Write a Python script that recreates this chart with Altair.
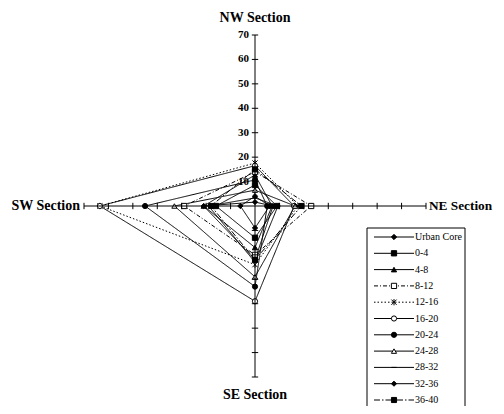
import altair as alt
import pandas as pd

series = ["Urban Core", "0-4", "4-8", "8-12", "12-16", "16-20", "20-24", "24-28", "28-32", "32-36", "36-40"]
nw = [4.0, 8.6, 12.7, 14.0, 17.6, 16.5, 10.7, 6.5, 3.3, 1.6, 15.0]
ne = [6.0, 9.0, 7.0, 23.0, 17.6, 16.0, 5.0, 16.4, 9.4, 7.4, 19.0]
se = [9.0, 13.0, 17.0, 20.0, 24.0, 39.0, 33.0, 29.0, 23.0, 22.0, 22.0]
sw = [6.0, 16.0, 21.0, 29.0, 63.5, 63.5, 45.0, 33.0, 19.0, 21.0, 18.0]
directions = ["NW", "NE", "SE", "SW"]
section_labels = ["NW Section", "NE Section", "SE Section", "SW Section"]
ticks = [10, 20, 30, 40, 50, 60, 70]

ASTER = "M-1,-1L1,1M-1,1L1,-1M0,-1.2L0,1.2"
DASH = "M-1,0L1,0"
shapes = ["diamond", "square", "triangle-up", "square", ASTER, "circle", "circle",
          "triangle-up", DASH, "diamond", "square"]
fills = ["black", "black", "black", "white", "black", "white", "black",
         "white", "black", "black", "black"]
sizes = [28, 26, 30, 26, 34, 16, 28, 30, 34, 28, 26]
dashes = [[1, 0], [1, 0], [1, 0], [4, 2, 1, 2], [1.5, 2], [1, 0], [1, 0],
          [1, 0], [1, 0], [1, 0], [6, 2, 1.5, 2]]

FONT = "Liberation Serif"

rows = []
for i, s in enumerate(series):
    vals = {"NW": nw[i], "NE": ne[i], "SE": se[i], "SW": sw[i]}
    for k, d in enumerate(directions + ["NW"]):
        rows.append({"series": s, "dir": d, "value": vals[d], "order": k})
df = pd.DataFrame(rows)

dx_expr = "datum.dir == 'NE' ? 1 : (datum.dir == 'SW' ? -1 : 0)"
dy_expr = "datum.dir == 'NW' ? 1 : (datum.dir == 'SE' ? -1 : 0)"

xs = alt.Scale(domain=[-70, 70], nice=False, zero=False)
ys = alt.Scale(domain=[-70, 70], nice=False, zero=False)

shape_scale = alt.Scale(domain=series, range=shapes)
fill_scale = alt.Scale(domain=series, range=fills)
size_scale = alt.Scale(domain=series, range=sizes)
dash_scale = alt.Scale(domain=series, range=dashes)

# axes
axis_df = pd.DataFrame({"dir": directions})
axis_lines = alt.Chart(axis_df).transform_calculate(
    dx=dx_expr, dy=dy_expr
).transform_calculate(
    zero="0", ex="70 * datum.dx", ey="70 * datum.dy"
).mark_rule(color="black", strokeWidth=1).encode(
    x=alt.X("zero:Q", scale=xs, axis=None),
    y=alt.Y("zero:Q", scale=ys, axis=None),
    x2="ex:Q", y2="ey:Q",
)

tick_df = pd.DataFrame([{"dir": d, "v": t} for d in directions for t in ticks])
tick_marks = alt.Chart(tick_df).transform_calculate(
    dx=dx_expr, dy=dy_expr
).transform_calculate(
    tx1="datum.v * datum.dx - 1.3 * abs(datum.dy)",
    tx2="datum.v * datum.dx + 1.3 * abs(datum.dy)",
    ty1="datum.v * datum.dy - 1.3 * abs(datum.dx)",
    ty2="datum.v * datum.dy + 1.3 * abs(datum.dx)",
).mark_rule(color="black", strokeWidth=1).encode(
    x=alt.X("tx1:Q", scale=xs, axis=None),
    y=alt.Y("ty1:Q", scale=ys, axis=None),
    x2="tx2:Q", y2="ty2:Q",
)

tick_labels = alt.Chart(pd.DataFrame({"v": ticks})).transform_calculate(
    zero="0"
).mark_text(align="right", baseline="middle", dx=-6, font=FONT,
            fontSize=11, fontWeight="bold", color="black").encode(
    x=alt.X("zero:Q", scale=xs, axis=None),
    y=alt.Y("v:Q", scale=ys, axis=None),
    text="v:Q",
)

label_layers = []
label_cfg = {
    "NW": dict(align="center", baseline="alphabetic", dy=-13, fontSize=14),
    "NE": dict(align="left", baseline="middle", dx=3, fontSize=13.3),
    "SE": dict(align="center", baseline="alphabetic", dy=22, fontSize=14),
    "SW": dict(align="right", baseline="middle", dx=-4, fontSize=14),
}
for d, lab in zip(directions, section_labels):
    ldf = pd.DataFrame({"dir": [d], "label": [lab]})
    label_layers.append(
        alt.Chart(ldf).transform_calculate(dx=dx_expr, dy=dy_expr).transform_calculate(
            lx="70 * datum.dx", ly="70 * datum.dy"
        ).mark_text(font=FONT, fontWeight="bold", color="black",
                    **label_cfg[d]).encode(
            x=alt.X("lx:Q", scale=xs, axis=None),
            y=alt.Y("ly:Q", scale=ys, axis=None),
            text="label:N",
        )
    )

base = alt.Chart(df).transform_calculate(dx=dx_expr, dy=dy_expr).transform_calculate(
    px="datum.value * datum.dx", py="datum.value * datum.dy"
)

lines = base.mark_line(color="black", strokeWidth=1).encode(
    x=alt.X("px:Q", scale=xs, axis=None),
    y=alt.Y("py:Q", scale=ys, axis=None),
    detail="series:N",
    order="order:Q",
    strokeDash=alt.StrokeDash("series:N", scale=dash_scale, legend=None),
)

points = base.transform_filter("datum.order < 4").mark_point(
    color="black", stroke="black", strokeWidth=1, opacity=1
).encode(
    x=alt.X("px:Q", scale=xs, axis=None),
    y=alt.Y("py:Q", scale=ys, axis=None),
    shape=alt.Shape("series:N", scale=shape_scale, legend=None),
    fill=alt.Fill("series:N", scale=fill_scale, legend=None),
    size=alt.Size("series:N", scale=size_scale, legend=None),
)

# legend
leg_df = pd.DataFrame({"series": series})
leg_y = alt.Y("series:N", sort=series, axis=None,
              scale=alt.Scale(type="point", domain=series, range=[202, 365], padding=0))

leg_box = alt.Chart(pd.DataFrame({"k": [0]})).mark_rect(
    fill="white", stroke="black", strokeWidth=1
).encode(x=alt.value(283), x2=alt.value(381), y=alt.value(193), y2=alt.value(420))

leg_lines = alt.Chart(leg_df).mark_rule(color="black", strokeWidth=1).encode(
    x=alt.value(290), x2=alt.value(330), y=leg_y,
    strokeDash=alt.StrokeDash("series:N", scale=dash_scale, legend=None),
)
leg_points = alt.Chart(leg_df).mark_point(
    color="black", stroke="black", strokeWidth=1, opacity=1
).encode(
    x=alt.value(310), y=leg_y,
    shape=alt.Shape("series:N", scale=shape_scale, legend=None),
    fill=alt.Fill("series:N", scale=fill_scale, legend=None),
    size=alt.Size("series:N", scale=size_scale, legend=None),
)
leg_text = alt.Chart(leg_df).mark_text(
    align="left", baseline="middle", font=FONT, fontSize=10, color="black"
).encode(x=alt.value(331), y=leg_y, text="series:N")

chart = alt.layer(
    lines, points, axis_lines, tick_marks, tick_labels, *label_layers,
    leg_box, leg_lines, leg_points, leg_text
).resolve_scale(y="independent", x="independent").properties(
    width=342, height=342,
    autosize=alt.AutoSizeParams(type="none"),
    padding={"left": 76, "top": 27, "right": 70, "bottom": 29},
).configure_view(stroke=None)

chart.save("out.html", embed_options={"renderer": "svg", "actions": False})
